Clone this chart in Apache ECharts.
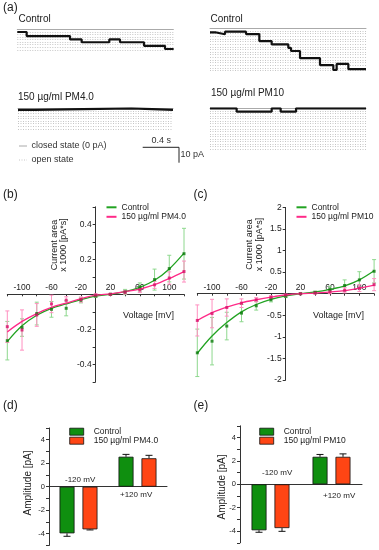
<!DOCTYPE html>
<html><head><meta charset="utf-8">
<script src="https://cdn.jsdelivr.net/npm/echarts@6/dist/echarts.min.js"></script>
<style>html,body{margin:0;padding:0;background:#fff}#c{width:379px;height:550px}</style>
</head><body><div id="c"></div>
<script>
// ---------- Panel (a): single-channel traces (time [s], current [pA]) ----------
const ctrlL_t = [0, 0.104, 0.586, 0.715, 1.022, 1.141, 1.408, 1.641, 1.737];
const ctrlL_i = [-1.7, -4.2, -6.3, -8.1, -6.3, -8.1, -10.3, -12.3, -12.3];
const ctrlR_t = [0, 0.056, 0.167, 0.4, 0.548, 0.685, 0.87, 0.9, 1.0, 1.222, 1.37, 1.407, 1.537, 1.733];
const ctrlR_i = [-2.5, -3.75, -2.1, -3.6, -8.0, -10.0, -12.3, -14.2, -18.7, -23.0, -26.1, -22.3, -25.6, -25.6];
const pm4_t = [0, 0.185, 1.26, 1.722];
const pm4_i = [-1.0, 0, -1.0, -1.0];
const pm10_t = [0, 0.296, 0.685, 0.785, 0.956, 1.733];
const pm10_i = [0, -2.1, 0, -2.1, 0, 0];

// ---------- Panels (b), (c): current area x 1000 [pA*s] vs voltage ----------
const voltages = [-120, -100, -80, -60, -40, -20, 0, 20, 40, 60, 80, 100, 120];
const bCtrlMean = [-0.265, -0.19, -0.11, -0.086, -0.08, -0.034, -0.01, 0, 0.013, 0.042, 0.084, 0.147, 0.232];
const bCtrlErr  = [0.11, 0.05, 0.065, 0.045, 0.043, 0.015, 0.008, 0.005, 0.015, 0.023, 0.06, 0.076, 0.145];
const bCtrlFit  = [-0.27, -0.18, -0.12, -0.08, -0.055, -0.03, -0.01, 0.0, 0.015, 0.04, 0.08, 0.145, 0.235];
const bPmMean   = [-0.185, -0.204, -0.118, -0.055, -0.034, -0.03, -0.005, 0, 0.012, 0.025, 0.054, 0.093, 0.13];
const bPmErr    = [0.09, 0.115, 0.065, 0.05, 0.02, 0.015, 0.008, 0.005, 0.01, 0.015, 0.02, 0.035, 0.06];
const bPmFit    = [-0.215, -0.155, -0.11, -0.075, -0.05, -0.025, -0.005, 0.003, 0.015, 0.03, 0.055, 0.09, 0.13];

const cCtrlMean = [-1.37, -1.1, -0.75, -0.45, -0.28, -0.14, -0.06, 0, 0.03, 0.09, 0.19, 0.32, 0.52];
const cCtrlErr  = [0.55, 0.55, 0.32, 0.2, 0.1, 0.05, 0.03, 0.02, 0.03, 0.08, 0.13, 0.19, 0.27];
const cCtrlFit  = [-1.38, -0.98, -0.67, -0.42, -0.25, -0.13, -0.05, 0.0, 0.04, 0.1, 0.18, 0.32, 0.53];
const cPmMean   = [-0.62, -0.46, -0.32, -0.22, -0.14, -0.08, -0.03, 0, 0.015, 0.04, 0.08, 0.13, 0.21];
const cPmErr    = [0.36, 0.33, 0.2, 0.1, 0.05, 0.03, 0.02, 0.01, 0.02, 0.04, 0.06, 0.08, 0.14];
const cPmFit    = [-0.62, -0.44, -0.31, -0.21, -0.14, -0.08, -0.03, 0.0, 0.015, 0.04, 0.07, 0.13, 0.2];

// ---------- Panels (d), (e): amplitude [pA] ----------
const ampCats = ['-120 mV', '+120 mV'];
const dCtrl = [-3.97, 2.55], dCtrlErr = [0.25, 0.2];
const dPm   = [-3.63, 2.42], dPmErr   = [0.05, 0.25];
const eCtrl = [-3.93, 2.35], eCtrlErr = [0.17, 0.2];
const ePm   = [-3.74, 2.35], ePmErr   = [0.28, 0.25];

const FONT = "'Liberation Sans', Arial, Helvetica, sans-serif";
const TXT = '#222';
const GREEN = '#22a322', PINK = '#ff2a88', LGREEN = '#8ed88e', LPINK = '#ff90c0';
const DGREEN = '#0b7a0b', DPINK = '#d8106a';
const BGREEN = '#0f8f0f', BORANGE = '#ff4514';

const chart = echarts.init(document.getElementById('c'), null, {renderer: 'canvas'});

const gridBoxes = [
  {left: 17.3, top: 29.3, width: 156, height: 20.5},   // 0 ctrl L
  {left: 210, top: 28.3, width: 156, height: 42.2},    // 1 ctrl R
  {left: 18, top: 108.3, width: 155, height: 20.5},    // 2 PM4.0
  {left: 210, top: 108.3, width: 156, height: 41},     // 3 PM10
  {left: 7.3, top: 206.8, width: 176.7, height: 175},  // 4 (b)
  {left: 197.3, top: 207.4, width: 176.8, height: 172.6}, // 5 (c)
  {left: 49, top: 427.95, width: 118, height: 117.5},  // 6 (d)
  {left: 240, top: 425.8, width: 122, height: 117}     // 7 (e)
];
const grids = gridBoxes.map(g => Object.assign({outerBoundsMode: 'none', containLabel: false}, g));

function traceX(gi, max) {
  return {gridIndex: gi, type: 'value', min: 0, max: max, position: 'top',
    axisLine: {show: true, onZero: false, lineStyle: {color: '#aaa', width: 1}},
    axisTick: {show: false}, axisLabel: {show: false}, splitLine: {show: false}};
}
function traceY(gi, min, interval) {
  return {gridIndex: gi, type: 'value', min: min, max: 0, interval: interval,
    axisLine: {show: false}, axisTick: {show: false}, axisLabel: {show: false},
    splitLine: {show: true, lineStyle: {color: '#b8b8b8', width: 0.8, type: [1, 1.5]}}};
}
const showV = [-100, -60, -20, 20, 60, 100];
// x axis placed at y = 0 via offset (grid zero is in the middle of the grid)
function ivX(gi) {
  const g = gridBoxes[gi];
  return {gridIndex: gi, type: 'value', min: -120, max: 120, interval: 20, position: 'bottom',
    offset: -g.height / 2,
    axisLine: {onZero: false, lineStyle: {color: '#333', width: 1}},
    axisTick: {show: true, length: 2, lineStyle: {color: '#333'}},
    axisLabel: {inside: true, margin: 2, fontSize: 8.5, color: TXT, fontFamily: FONT,
      formatter: v => showV.indexOf(v) >= 0 ? String(v) : ''},
    splitLine: {show: false}};
}
function ivY(gi, min, max, interval, fmt) {
  const g = gridBoxes[gi];
  return {gridIndex: gi, type: 'value', min: min, max: max, interval: interval, position: 'left',
    offset: -g.width / 2,
    axisLine: {onZero: false, lineStyle: {color: '#333', width: 1}},
    axisTick: {show: true, length: 3, lineStyle: {color: '#333'}},
    axisLabel: {margin: 4, fontSize: 8.5, color: TXT, fontFamily: FONT, formatter: fmt},
    splitLine: {show: false}};
}
function ampY(gi) {
  return {gridIndex: gi, type: 'value', min: -5, max: 5, interval: 1,
    axisLine: {show: true, onZero: false, lineStyle: {color: '#333', width: 1}},
    axisTick: {show: true, length: 3, lineStyle: {color: '#333'}},
    axisLabel: {margin: 4, fontSize: 7.5, color: TXT, fontFamily: FONT,
      formatter: v => (Math.round(v) % 2 === 0) ? String(Math.round(v)) : ''},
    splitLine: {show: false}};
}
function ampX(gi) {
  return {gridIndex: gi, type: 'category', data: ampCats,
    axisLine: {onZero: true, lineStyle: {color: '#333', width: 1}},
    axisTick: {show: false}, axisLabel: {show: false}, splitLine: {show: false}};
}

function traceSeries(gi, t, i) {
  return {type: 'line', xAxisIndex: gi, yAxisIndex: gi, step: 'end', symbol: 'none',
    data: t.map((tt, k) => [tt, i[k]]), lineStyle: {color: '#111', width: 2.2}, silent: true, z: 5};
}
function errIV(gi, name, mean, err, color) {
  return {type: 'custom', name: name, xAxisIndex: gi, yAxisIndex: gi, z: 2, silent: true,
    data: voltages.map((v, k) => [v, mean[k], err[k]]),
    renderItem: function (params, api) {
      const x = api.value(0), y = api.value(1), e = api.value(2);
      const p1 = api.coord([x, y + e]), p2 = api.coord([x, y - e]);
      const st = {stroke: color, lineWidth: 1};
      const cap = 2;
      return {type: 'group', children: [
        {type: 'line', shape: {x1: p1[0], y1: p1[1], x2: p2[0], y2: p2[1]}, style: st},
        {type: 'line', shape: {x1: p1[0] - cap, y1: p1[1], x2: p1[0] + cap, y2: p1[1]}, style: st},
        {type: 'line', shape: {x1: p2[0] - cap, y1: p2[1], x2: p2[0] + cap, y2: p2[1]}, style: st}
      ]};
    }};
}
function fitLine(gi, name, fit, color) {
  return {type: 'line', name: name, xAxisIndex: gi, yAxisIndex: gi, smooth: 0.35, symbol: 'none',
    data: voltages.map((v, k) => [v, fit[k]]), itemStyle: {color: color},
    lineStyle: {color: color, width: 1.3}, z: 4, silent: true};
}
function pts(gi, name, mean, color) {
  return {type: 'scatter', name: name, xAxisIndex: gi, yAxisIndex: gi, symbol: 'rect', symbolSize: 3,
    data: voltages.map((v, k) => [v, mean[k]]), itemStyle: {color: color}, z: 5, silent: true};
}
function bars(gi, name, vals, color) {
  return {type: 'bar', name: name, xAxisIndex: gi, yAxisIndex: gi, data: vals, barWidth: 15, barGap: '53%',
    itemStyle: {color: color, borderColor: '#111', borderWidth: 0.8}, silent: true, z: 3};
}
function barErr(gi, name, vals, errs, offset) {
  return {type: 'custom', name: name, xAxisIndex: gi, yAxisIndex: gi, z: 2, silent: true,
    data: vals.map((v, k) => [k, v, errs[k]]),
    renderItem: function (params, api) {
      const k = api.value(0), v = api.value(1), e = api.value(2);
      const end = v + (v >= 0 ? e : -e);
      const p1 = api.coord([k, v]), p2 = api.coord([k, end]);
      const x = p1[0] + offset;
      const st = {stroke: '#111', lineWidth: 1};
      return {type: 'group', children: [
        {type: 'line', shape: {x1: x, y1: p1[1], x2: x, y2: p2[1]}, style: st},
        {type: 'line', shape: {x1: x - 3.5, y1: p2[1], x2: x + 3.5, y2: p2[1]}, style: st}
      ]};
    }};
}

function txt(x, y, s, size, extra) {
  return {type: 'text', x: x, y: y, silent: true,
    style: Object.assign({text: s, fontSize: size, fontFamily: FONT, fill: TXT}, extra || {})};
}
function vtxt(x, y, s, size) {
  return {type: 'text', x: x, y: y, rotation: Math.PI / 2, silent: true,
    style: {text: s, fontSize: size, fontFamily: FONT, fill: TXT, align: 'center', verticalAlign: 'middle'}};
}
const nameFmt = n => n.split('|')[0];
const legTxt = {fontSize: 8.5, lineHeight: 9, color: TXT, fontFamily: FONT};

const option = {
  animation: false,
  backgroundColor: '#fff',
  grid: grids,
  xAxis: [traceX(0, 1.733), traceX(1, 1.733), traceX(2, 1.722), traceX(3, 1.733),
          ivX(4), ivX(5), ampX(6), ampX(7)],
  yAxis: [traceY(0, -12.8, 1.6), traceY(1, -26.4, 1.65), traceY(2, -12.8, 1.6), traceY(3, -25.6, 1.6),
          ivY(4, -0.5, 0.5, 0.1, v => {const r = Math.round(v * 10) / 10; return (Math.abs(r) === 0.2 || Math.abs(r) === 0.4) ? String(r) : '';}),
          ivY(5, -2, 2, 0.5, v => v === 0 ? '' : String(v)),
          ampY(6), ampY(7)],
  legend: [
    {left: 101.5, top: 197.8, orient: 'vertical', icon: 'rect', itemWidth: 10, itemHeight: 2, itemGap: 0.5,
     selectedMode: false, data: ['Control|b', '150 µg/ml PM4.0|b'], formatter: nameFmt, textStyle: legTxt},
    {left: 291.5, top: 197.8, orient: 'vertical', icon: 'rect', itemWidth: 10, itemHeight: 2, itemGap: 0.5,
     selectedMode: false, data: ['Control|c', '150 µg/ml PM10|c'], formatter: nameFmt, textStyle: legTxt},
    {left: 64.3, top: 422.2, orient: 'vertical', icon: 'rect', itemWidth: 14, itemHeight: 7, itemGap: 0,
     selectedMode: false, data: ['Control|d', '150 µg/ml PM4.0|d'], formatter: nameFmt,
     itemStyle: {borderColor: '#111', borderWidth: 0.8},
     textStyle: Object.assign({padding: [0, 0, 0, 5]}, legTxt)},
    {left: 254.3, top: 422.2, orient: 'vertical', icon: 'rect', itemWidth: 14, itemHeight: 7, itemGap: 0,
     selectedMode: false, data: ['Control|e', '150 µg/ml PM10|e'], formatter: nameFmt,
     itemStyle: {borderColor: '#111', borderWidth: 0.8},
     textStyle: Object.assign({padding: [0, 0, 0, 5]}, legTxt)}
  ],
  series: [
    traceSeries(0, ctrlL_t, ctrlL_i),
    traceSeries(1, ctrlR_t, ctrlR_i),
    traceSeries(2, pm4_t, pm4_i),
    traceSeries(3, pm10_t, pm10_i),
    // (b)
    errIV(4, 'errCb', bCtrlMean, bCtrlErr, LGREEN),
    errIV(4, 'errPb', bPmMean, bPmErr, LPINK),
    fitLine(4, 'Control|b', bCtrlFit, GREEN),
    fitLine(4, '150 µg/ml PM4.0|b', bPmFit, PINK),
    pts(4, 'ptCb', bCtrlMean, DGREEN),
    pts(4, 'ptPb', bPmMean, DPINK),
    // (c)
    errIV(5, 'errCc', cCtrlMean, cCtrlErr, LGREEN),
    errIV(5, 'errPc', cPmMean, cPmErr, LPINK),
    fitLine(5, 'Control|c', cCtrlFit, GREEN),
    fitLine(5, '150 µg/ml PM10|c', cPmFit, PINK),
    pts(5, 'ptCc', cCtrlMean, DGREEN),
    pts(5, 'ptPc', cPmMean, DPINK),
    // (d)
    bars(6, 'Control|d', dCtrl, BGREEN),
    bars(6, '150 µg/ml PM4.0|d', dPm, BORANGE),
    barErr(6, 'eCd', dCtrl, dCtrlErr, -11.5),
    barErr(6, 'ePd', dPm, dPmErr, 11.5),
    // (e)
    bars(7, 'Control|e', eCtrl, BGREEN),
    bars(7, '150 µg/ml PM10|e', ePm, BORANGE),
    barErr(7, 'eCe', eCtrl, eCtrlErr, -11.5),
    barErr(7, 'ePe', ePm, ePmErr, 11.5)
  ],
  graphic: [
    txt(3, 2, '(a)', 12),
    txt(18.5, 14.5, 'Control', 10),
    txt(210.5, 14.5, 'Control', 10),
    txt(18, 92.5, '150 µg/ml PM4.0', 10),
    txt(211, 88.5, '150 µg/ml PM10', 10),
    // closed / open state key
    {type: 'line', shape: {x1: 19, y1: 146, x2: 27, y2: 146}, style: {stroke: '#aaa', lineWidth: 1}, silent: true},
    txt(31.5, 141.5, 'closed state (0 pA)', 9, {fill: '#333'}),
    {type: 'line', shape: {x1: 19, y1: 160, x2: 27, y2: 160}, style: {stroke: '#b8b8b8', lineWidth: 0.8, lineDash: [1, 1.5]}, silent: true},
    txt(31.5, 155.5, 'open state', 9, {fill: '#333'}),
    // scale bar
    {type: 'polyline', shape: {points: [[142.7, 147.3], [179, 147.3], [179, 162.7]]}, style: {stroke: '#222', lineWidth: 1, fill: null}, silent: true},
    txt(151.5, 136.5, '0.4 s', 9, {fill: '#333'}),
    txt(180.5, 150.5, '10 pA', 9, {fill: '#333'}),
    // panel letters
    txt(3, 189, '(b)', 12),
    txt(193.5, 189, '(c)', 12),
    txt(3, 399.5, '(d)', 12),
    txt(193.5, 399.5, '(e)', 12),
    // axis titles
    txt(123, 311, 'Voltage [mV]', 9),
    txt(313, 311, 'Voltage [mV]', 9),
    vtxt(54.3, 245, 'Current area', 9),
    vtxt(63.5, 245, 'x 1000 [pA*s]', 9),
    vtxt(250, 244.5, 'Current area', 9),
    vtxt(259.5, 244.5, 'x 1000 [pA*s]', 9),
    vtxt(28, 483, 'Amplitude [pA]', 10),
    vtxt(222, 487, 'Amplitude [pA]', 10),
    // bar group captions
    txt(65, 475.5, '-120 mV', 8),
    txt(120, 491, '+120 mV', 8),
    txt(262, 469, '-120 mV', 8),
    txt(323, 491.5, '+120 mV', 8)
  ]
};
chart.setOption(option);
</script>
</body></html>
